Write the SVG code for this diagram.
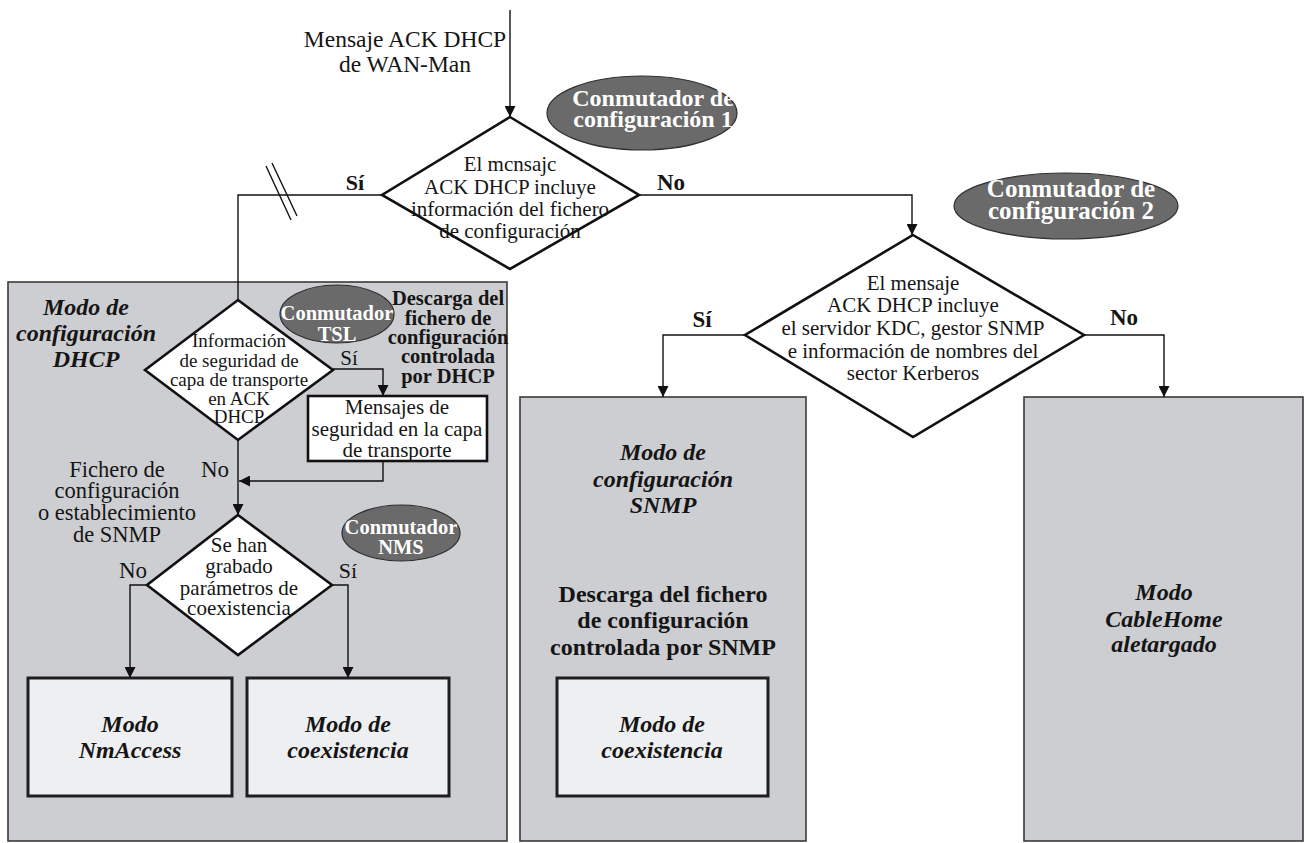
<svg xmlns="http://www.w3.org/2000/svg" width="1305" height="843" viewBox="0 0 1305 843" font-family="'Liberation Serif', 'DejaVu Serif', serif">
  <defs>
    <marker id="ah" viewBox="0 0 10 10" refX="10" refY="5" markerWidth="12" markerHeight="11" orient="auto" markerUnits="userSpaceOnUse">
      <path d="M0,0 L10,5 L0,10 z" fill="#111"/>
    </marker>
  </defs>
  <style>
    text { font-family: 'Liberation Serif', 'DejaVu Serif', serif; fill: #151515; text-anchor: middle; }
    .panel { fill: #cdced2; stroke: #3a3a3a; stroke-width: 1.6; }
    .mode { fill: #eeeff1; stroke: #1e1e1e; stroke-width: 3; }
    .plain { fill: #ffffff; stroke: #111; stroke-width: 2.6; }
    .dec { fill: #ffffff; stroke: #111; stroke-width: 2.6; stroke-linejoin: miter; }
    .sw { fill: #6a6a6a; stroke: #2e2e2e; stroke-width: 1.2; }
    .sw-t { fill: #ffffff; font-weight: bold; }
    .link { fill: none; stroke: #111; stroke-width: 1.4; }
    .bi { font-weight: bold; font-style: italic; font-size: 24px; }
    .b { font-weight: bold; }
    .r21 { font-size: 21px; }
    .r19 { font-size: 19px; }
  </style>

  <!-- container panels -->
  <g id="panel-dhcp">
    <rect class="panel" x="8" y="282" width="499" height="559"/>
    <text class="bi" x="86" y="315">Modo de</text>
    <text class="bi" x="86" y="341">configuración</text>
    <text class="bi" x="86" y="367">DHCP</text>
  </g>
  <g id="panel-snmp">
    <rect class="panel" x="520" y="397" width="286" height="444"/>
    <text class="bi" x="663" y="460">Modo de</text>
    <text class="bi" x="663" y="487">configuración</text>
    <text class="bi" x="663" y="513">SNMP</text>
    <text class="b" style="font-size:24px" x="663" y="602">Descarga del fichero</text>
    <text class="b" style="font-size:24px" x="663" y="628">de configuración</text>
    <text class="b" style="font-size:24px" x="663" y="655">controlada por SNMP</text>
  </g>
  <g id="panel-cablehome">
    <rect class="panel" x="1024" y="397" width="279" height="444"/>
    <text class="bi" x="1164" y="600">Modo</text>
    <text class="bi" x="1164" y="627">CableHome</text>
    <text class="bi" x="1164" y="652">aletargado</text>
  </g>

  <!-- connectors -->
  <g id="connectors">
    <path class="link" d="M510,10 V117" marker-end="url(#ah)"/>
    <path class="link" d="M382,195 H238 V300"/>
    <path class="link" d="M266,166 L291,220 M272,163 L297,216"/>
    <path class="link" d="M639,195 H912 V235" marker-end="url(#ah)"/>
    <path class="link" d="M333,369 H383 V396" marker-end="url(#ah)"/>
    <path class="link" d="M383,461 V481 H239" marker-end="url(#ah)"/>
    <path class="link" d="M238,440 V515" marker-end="url(#ah)"/>
    <path class="link" d="M147,585 H130 V678" marker-end="url(#ah)"/>
    <path class="link" d="M332,585 H348 V678" marker-end="url(#ah)"/>
    <path class="link" d="M745,335 H663 V397" marker-end="url(#ah)"/>
    <path class="link" d="M1084,335 H1164 V397" marker-end="url(#ah)"/>
  </g>

  <!-- connector labels -->
  <g id="labels">
    <text style="font-size:23.5px" x="405" y="47">Mensaje ACK DHCP</text>
    <text style="font-size:23.5px" x="405" y="72">de WAN-Man</text>
    <text class="b" style="font-size:22px" x="355" y="190">Sí</text>
    <text class="b" style="font-size:23px" x="671" y="190">No</text>
    <text class="b" style="font-size:23px" x="702" y="327">Sí</text>
    <text class="b" style="font-size:23px" x="1124" y="325">No</text>
    <text class="r21" x="349" y="365">Sí</text>
    <text style="font-size:23px" x="215" y="477">No</text>
    <text style="font-size:23px" x="133" y="578">No</text>
    <text style="font-size:22px" x="348" y="578">Sí</text>
    <text style="font-size:22.5px" x="117" y="477">Fichero de</text>
    <text style="font-size:22.5px" x="117" y="498">configuración</text>
    <text style="font-size:22.5px" x="117" y="520">o establecimiento</text>
    <text style="font-size:22.5px" x="117" y="542">de SNMP</text>
    <text class="b" style="font-size:20.5px" x="448" y="305">Descarga del</text>
    <text class="b" style="font-size:20.5px" x="448" y="325">fichero de</text>
    <text class="b" style="font-size:20.5px" x="448" y="344">configuración</text>
    <text class="b" style="font-size:20.5px" x="448" y="363">controlada</text>
    <text class="b" style="font-size:20.5px" x="448" y="383">por DHCP</text>
  </g>

  <!-- decisions -->
  <g id="decision-config-file">
    <polygon class="dec" points="510,117 639,195 510,269 382,195"/>
    <text class="r21" x="510" y="171">El mcnsajc</text>
    <text class="r21" x="510" y="194">ACK DHCP incluye</text>
    <text class="r21" x="510" y="216">información del fichero</text>
    <text class="r21" x="510" y="238">de configuración</text>
  </g>
  <g id="decision-kdc">
    <polygon class="dec" points="913,235 1084,335 913,437 745,335"/>
    <text class="r21" x="913" y="290">El mensaje</text>
    <text class="r21" x="913" y="312">ACK DHCP incluye</text>
    <text class="r21" x="913" y="335">el servidor KDC, gestor SNMP</text>
    <text class="r21" x="913" y="358">e información de nombres del</text>
    <text class="r21" x="913" y="380">sector Kerberos</text>
  </g>
  <g id="decision-tls">
    <polygon class="dec" points="238,300 333,370 238,440 145,370"/>
    <text class="r19" x="239" y="347">Información</text>
    <text class="r19" x="239" y="367">de seguridad de</text>
    <text class="r19" x="239" y="386">capa de transporte</text>
    <text class="r19" x="239" y="405">en ACK</text>
    <text class="r19" x="239" y="423">DHCP</text>
  </g>
  <g id="decision-coexistence">
    <polygon class="dec" points="238,515 332,585 238,655 147,585"/>
    <text class="r21" x="239" y="552">Se han</text>
    <text class="r21" x="239" y="573">grabado</text>
    <text class="r21" x="239" y="595">parámetros de</text>
    <text class="r21" x="239" y="615">coexistencia</text>
  </g>

  <!-- process box -->
  <g id="tls-messages">
    <rect class="plain" x="308" y="396" width="179" height="65"/>
    <text class="r21" x="397" y="414">Mensajes de</text>
    <text class="r21" x="397" y="436">seguridad en la capa</text>
    <text class="r21" x="397" y="457">de transporte</text>
  </g>

  <!-- mode boxes -->
  <g id="mode-nmaccess">
    <rect class="mode" x="28" y="678" width="204" height="118"/>
    <text class="bi" x="130" y="732">Modo</text>
    <text class="bi" x="130" y="758">NmAccess</text>
  </g>
  <g id="mode-coexistence-dhcp">
    <rect class="mode" x="247" y="678" width="202" height="118"/>
    <text class="bi" x="348" y="732">Modo de</text>
    <text class="bi" x="348" y="758">coexistencia</text>
  </g>
  <g id="mode-coexistence-snmp">
    <rect class="mode" x="557" y="678" width="211" height="118"/>
    <text class="bi" x="662" y="732">Modo de</text>
    <text class="bi" x="662" y="758">coexistencia</text>
  </g>

  <!-- switches -->
  <g id="switch-1">
    <ellipse class="sw" cx="642" cy="113" rx="95" ry="37"/>
    <text class="sw-t" style="font-size:24px" x="653" y="106">Conmutador de</text>
    <text class="sw-t" style="font-size:24px" x="653" y="127">configuración 1</text>
  </g>
  <g id="switch-2">
    <ellipse class="sw" cx="1066" cy="206" rx="112" ry="33"/>
    <text class="sw-t" style="font-size:25px" x="1071" y="197">Conmutador de</text>
    <text class="sw-t" style="font-size:25px" x="1071" y="219">configuración 2</text>
  </g>
  <g id="switch-tsl">
    <ellipse class="sw" cx="337" cy="314" rx="57" ry="29"/>
    <text class="sw-t" style="font-size:20.5px" x="337" y="320">Conmutador</text>
    <text class="sw-t" style="font-size:20.5px" x="337" y="341">TSL</text>
  </g>
  <g id="switch-nms">
    <ellipse class="sw" cx="401" cy="533" rx="59" ry="28"/>
    <text class="sw-t" style="font-size:20.5px" x="401" y="534">Conmutador</text>
    <text class="sw-t" style="font-size:20.5px" x="401" y="554">NMS</text>
  </g>
</svg>
